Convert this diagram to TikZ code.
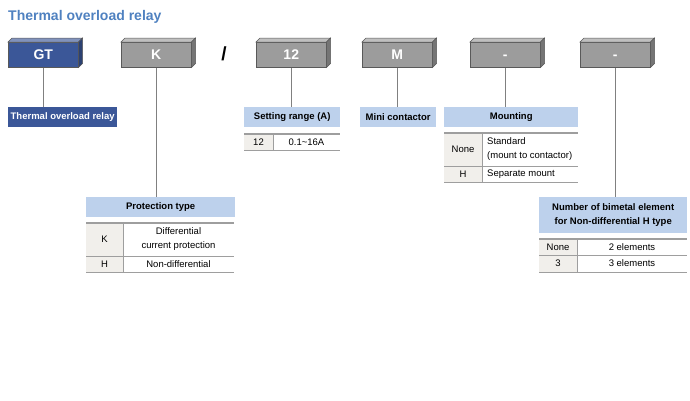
\documentclass[tikz,border=0pt]{standalone}
\usepackage{fontspec}
\setmainfont{Liberation Sans}
\usetikzlibrary{calc, positioning}

\definecolor{titblue}{HTML}{4F81C0}
\definecolor{gtblue}{HTML}{3B5798}
\definecolor{codegray}{HTML}{9C9C9C}
\definecolor{hdrblue}{HTML}{BDD1EC}
\definecolor{cellgray}{HTML}{F1EFEB}
\definecolor{rulegray}{HTML}{9E9E9E}

\tikzset{
  codebox/.style={draw=black!65, line width=0.5pt, fill=codegray, text=white,
    font=\bfseries\fontsize{14}{14}\selectfont, minimum width=70pt,
    minimum height=25pt, inner sep=0pt, anchor=north west,
    text height=10pt, text depth=0pt},
  hdr/.style={fill=hdrblue, font=\bfseries\fontsize{9.5}{14}\selectfont,
    minimum height=20pt, inner sep=0pt, anchor=north west, align=center},
  cell/.style={font=\fontsize{9.5}{14}\selectfont, inner sep=0pt, align=center},
  conn/.style={draw=black!50, line width=0.6pt},
  toprule/.style={draw=rulegray, line width=1.5pt},
  rowrule/.style={draw=rulegray, line width=0.6pt}
}

\begin{document}
\begin{tikzpicture}[x=1pt, y=-1pt]
\useasboundingbox (0,0) rectangle (690,400);
%% Titulo
\node[anchor=west, text=titblue, font=\bfseries\fontsize{14}{14}\selectfont, inner sep=0pt] (title) at (8,17) {Thermal overload relay};

%% Cajas del codigo
\node[codebox, fill=gtblue] (gt) at (8,42) {GT};
\node[codebox] (k) at (121,42) {K};
\node[font=\bfseries\fontsize{19}{19}\selectfont, inner sep=0pt] (slash) at (224,54) {/};
\node[codebox] (rng) at (256,42) {12};
\node[codebox] (mc) at (362,42) {M};
\node[codebox] (mnt) at (470,42) {-};
\node[codebox] (bim) at (580,42) {-};
%% bisel 3D
\foreach \n/\c in {gt/gtblue, k/codegray, rng/codegray, mc/codegray, mnt/codegray, bim/codegray}{
  \filldraw[draw=black!65, line width=0.5pt, fill=\c!65!white] (\n.north west) -- ++(4,-4) -- ($(\n.north east)+(4,-4)$) -- (\n.north east) -- cycle;
  \filldraw[draw=black!65, line width=0.5pt, fill=\c!75!black] (\n.north east) -- ++(4,-4) -- ($(\n.south east)+(4,-4)$) -- (\n.south east) -- cycle;
}

%% Cabeceras
\node[hdr, fill=gtblue, text=white, minimum width=109pt] (gtl) at (8,107) {Thermal overload relay};
\node[hdr, minimum width=149pt] (kl) at (86,197) {Protection type};
\node[hdr, minimum width=96pt] (rngl) at (244,107) {Setting range (A)};
\node[hdr, minimum width=76pt] (mcl) at (360,107) {Mini contactor};
\node[hdr, minimum width=134pt] (mntl) at (444,107) {Mounting};
\node[hdr, minimum width=148pt, minimum height=36pt] (biml) at (539,197) {Number of bimetal element\\for Non-differential H type};

%% Conectores
\foreach \n in {gt, k, rng, mc, mnt, bim}{
  \draw[conn] (\n.south) -- (\n.south |- \n l.north);
}

%% Tabla: Protection type
\fill[cellgray] (86,223) rectangle (123,272);
\draw[rowrule] (86,256) -- (234,256) (86,272) -- (234,272);
\draw[rowrule] (123,223) -- (123,272);
\draw[toprule] (86,223) -- (234,223);
\node[cell] (kk) at (104.5,239.5) {K};
\node[cell] (kkt) at (178.5,239.5) {Differential\\current protection};
\node[cell] (kh) at (104.5,264) {H};
\node[cell] (kht) at (178.5,264) {Non-differential};

%% Tabla: Setting range
\fill[cellgray] (244,134) rectangle (273,150);
\draw[rowrule] (244,150) -- (340,150);
\draw[rowrule] (273,134) -- (273,150);
\draw[toprule] (244,134) -- (340,134);
\node[cell] (r12) at (258.5,142) {12};
\node[cell] (r12t) at (306.5,142) {0.1\textasciitilde16A};

%% Tabla: Mounting
\fill[cellgray] (444,133) rectangle (482,182);
\draw[rowrule] (444,166) -- (578,166) (444,182) -- (578,182);
\draw[rowrule] (482,133) -- (482,182);
\draw[toprule] (444,133) -- (578,133);
\node[cell] (mn) at (463,149.5) {None};
\node[cell, anchor=west, align=left] (mnt1) at (487,149.5) {Standard\\(mount to contactor)};
\node[cell] (mh) at (463,174) {H};
\node[cell, anchor=west] (mht) at (487,174) {Separate mount};

%% Tabla: bimetal
\fill[cellgray] (539,239) rectangle (577,272);
\draw[rowrule] (539,255) -- (687,255) (539,272) -- (687,272);
\draw[rowrule] (577,239) -- (577,272);
\draw[toprule] (539,239) -- (687,239);
\node[cell] (bn) at (558,247) {None};
\node[cell] (bnt) at (632,247) {2 elements};
\node[cell] (b3) at (558,263.5) {3};
\node[cell] (b3t) at (632,263.5) {3 elements};
\end{tikzpicture}
\end{document}
